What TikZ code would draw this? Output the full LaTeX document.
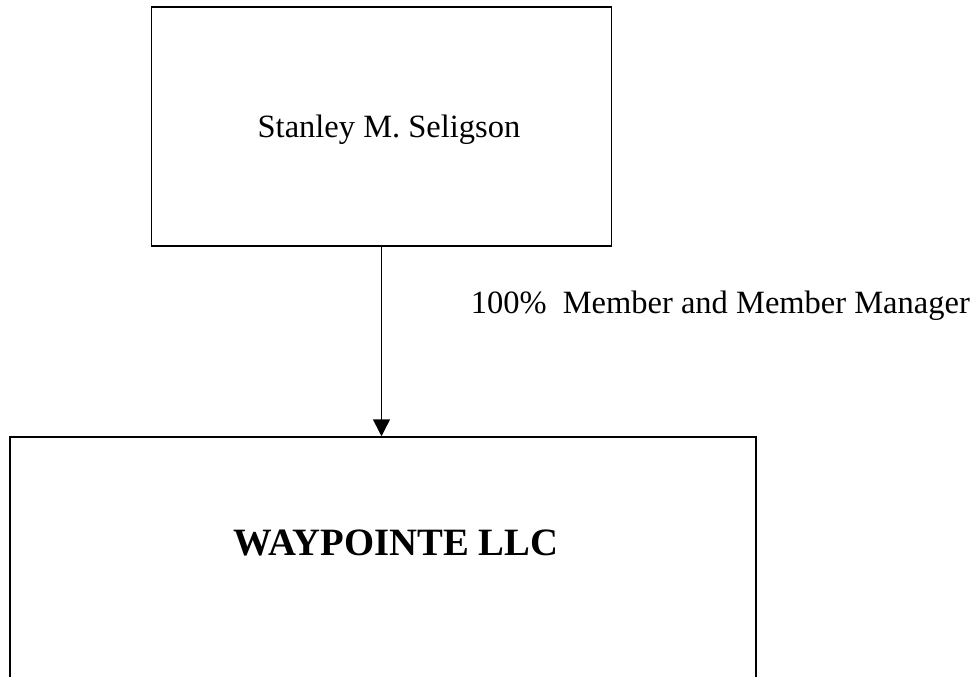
\documentclass[tikz,border=0pt]{standalone}
\usepackage{fontspec}
\setmainfont{Liberation Serif}
\usetikzlibrary{arrows.meta,positioning}

\begin{document}
\begin{tikzpicture}[x=1pt, y=-1pt, line width=1.5pt,
  box/.style={draw, inner sep=0pt},
  plain/.style={inner sep=0pt, font=\fontsize{32.5pt}{37pt}\selectfont},
  firm/.style={inner sep=0pt, font=\fontsize{38.7pt}{44pt}\selectfont\bfseries}]
\useasboundingbox (0,0) rectangle (977,677);
\node[box, minimum width=460pt, minimum height=239pt] (owner) at (381.5,126.5) {};
\node[plain, anchor=base] (ownername) at (389,137) {Stanley M. Seligson};
\node[box, minimum width=746pt, minimum height=281pt] (llc) at (383,577.5) {};
\node[firm, anchor=base] (llcname) at (396,555) {WAYPOINTE LLC};
\draw[-{Triangle[length=17pt,width=17pt]}] (owner.south) -- (owner.south |- llc.north);
\node[plain, anchor=base west] (role) at (470,313) {100\%\ \ Member and Member Manager};
\end{tikzpicture}
\end{document}
